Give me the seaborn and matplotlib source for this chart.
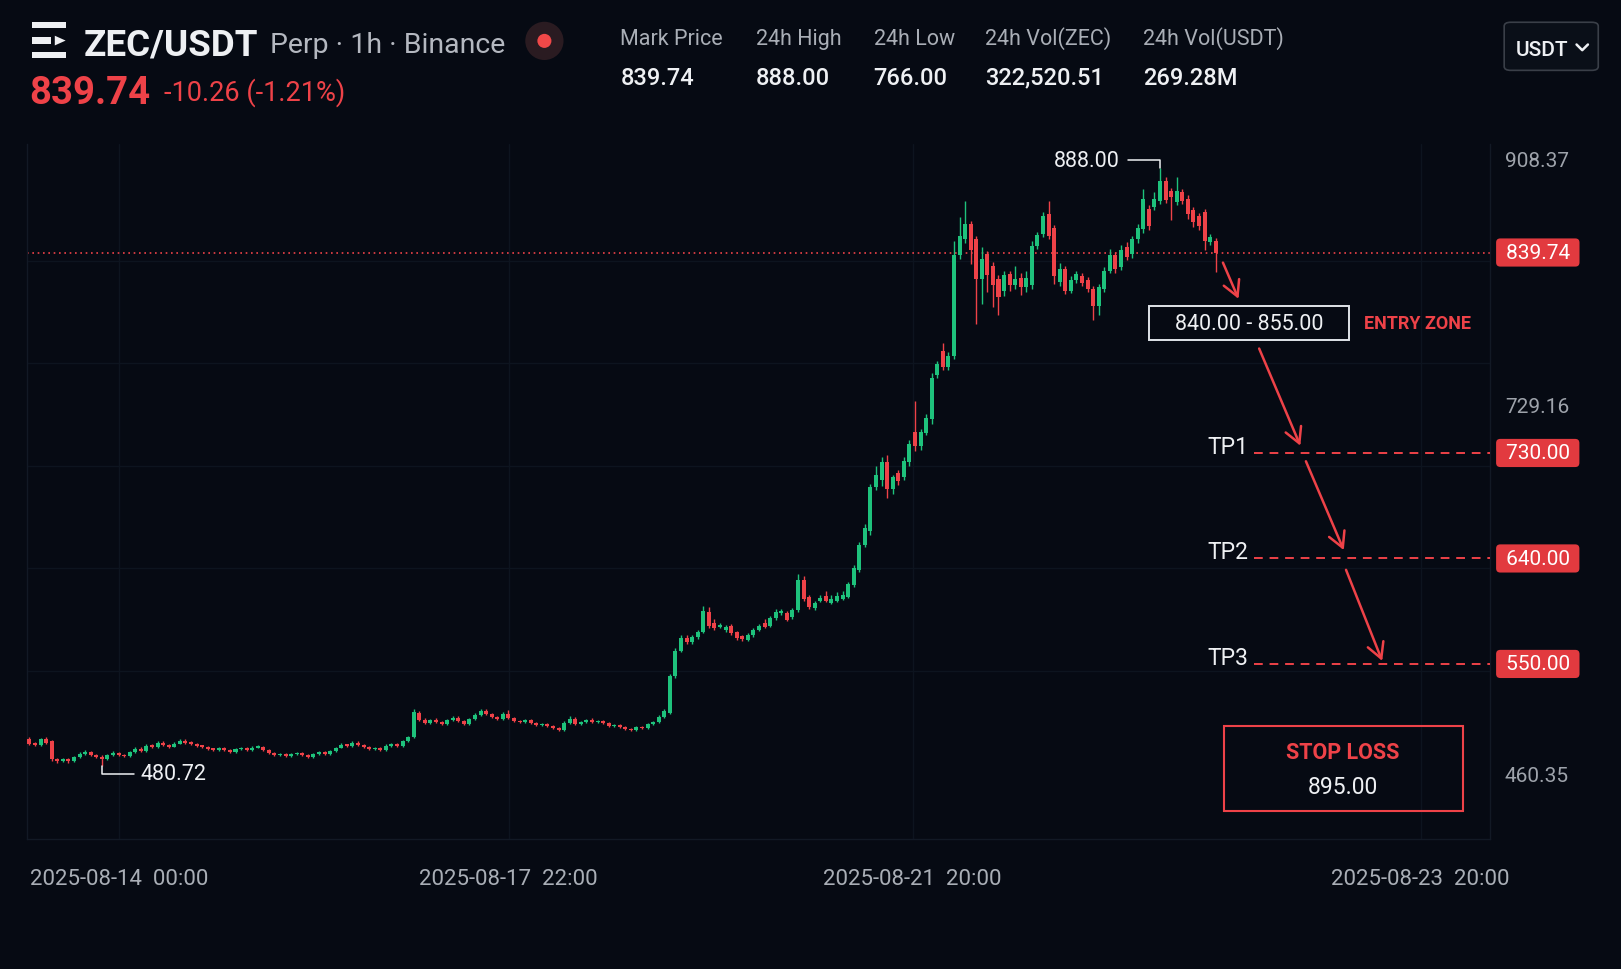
import numpy as np
import pandas as pd
import matplotlib
matplotlib.use("Agg")
import matplotlib.pyplot as plt
import matplotlib.transforms as mtransforms
from matplotlib.patches import Rectangle, Ellipse, FancyBboxPatch, Polygon
from matplotlib.lines import Line2D
from matplotlib.ticker import FixedLocator
import seaborn as sns

# ---- data (1h candles, price in USDT) ----
opens = [
    485.2, 482.2, 481.4, 485.2, 483.7, 470.9, 469.4, 470.9, 469.4, 472.4,
    474.6, 476.2, 473.9, 472.4, 470.9, 473.9, 475.4, 473.9, 473.1, 476.2,
    478.4, 476.9, 480.7, 479.9, 482.9, 481.4, 479.9, 482.2, 484.4, 482.9,
    482.2, 480.7, 479.9, 478.4, 477.7, 479.2, 477.7, 476.2, 478.4, 479.2,
    477.7, 479.2, 479.9, 477.7, 475.4, 473.9, 474.6, 473.1, 474.6, 475.4,
    473.9, 472.4, 474.6, 476.2, 474.6, 476.9, 479.2, 481.4, 480.7,
    482.9, 481.4, 479.9, 478.4, 479.2, 477.7, 480.7, 481.4, 480.7, 483.7,
    486.7, 504.8, 499.5, 497.2, 499.5, 498.0, 496.5, 499.5, 501.0, 498.7,
    496.5, 500.2, 503.2, 506.2, 504.0, 501.8, 500.2, 504.0, 501.0, 498.7,
    498.0, 499.5, 497.2, 495.7, 496.5, 494.9, 493.4, 491.9, 497.2, 500.2,
    496.5, 498.0, 499.5, 498.0, 498.7, 497.2, 494.9, 495.7, 494.2, 492.7,
    491.9, 494.2, 493.4, 496.5, 498.0, 501.8,
    504.8, 531.1, 549.9, 559.0, 556.0, 559.7, 563.5, 577.8, 570.3, 567.3,
    565.0, 568.0, 563.5, 560.5, 557.5, 561.2, 565.0, 570.3, 568.0, 573.3,
    577.0, 577.0, 574.0, 579.3, 601.1, 589.1, 580.8, 586.1, 589.9, 584.6,
    586.1, 587.6, 589.1, 597.4, 608.7, 626.7, 637.3, 668.9, 674.2, 687.0,
    667.4, 679.5, 676.4, 687.0, 708.8, 699.0, 708.0, 718.6,
    750.2, 768.3, 756.3, 764.6, 837.6, 849.6, 860.2, 849.6, 820.3, 838.3,
    830.1, 820.3, 812.0, 824.0, 815.8, 821.0, 814.3, 815.8, 844.4, 853.4,
    867.7, 857.9, 818.0, 827.8, 812.0, 819.5, 822.5, 819.5, 813.5, 800.7,
    813.5, 826.3, 837.6, 829.3, 843.6, 838.3, 849.6, 857.2, 871.5, 873.0,
    877.5, 891.8, 884.3, 876.7, 883.5, 879.0, 870.7, 866.2, 869.2, 847.4,
    848.1,
]
highs = [
    487.0, 483.5, 486.5, 487.0, 484.5, 471.8, 471.5, 471.6, 473.2, 475.8,
    477.4, 477.0, 474.6, 473.5, 474.8, 476.5, 476.0, 474.6, 477.0, 479.5,
    479.4, 481.8, 482.0, 484.0, 483.8, 482.0, 483.0, 485.5, 485.6, 483.8,
    482.9, 481.5, 480.6, 479.1, 480.0, 479.9, 478.4, 479.2, 480.0, 480.0,
    480.2, 480.8, 480.6, 478.4, 476.2, 475.4, 475.4, 475.5, 476.4, 476.2,
    474.6, 475.4, 477.0, 477.0, 477.8, 480.0, 482.4, 482.2, 483.8,
    483.8, 482.2, 480.6, 480.0, 480.0, 481.6, 482.4, 482.9, 484.6, 488.0,
    507.0, 506.0, 500.6, 500.4, 501.0, 498.8, 500.4, 502.0, 502.0, 499.4,
    501.0, 504.2, 507.4, 507.5, 504.8, 502.6, 505.0, 506.3, 501.8, 499.5,
    500.3, 500.2, 498.0, 497.4, 497.2, 495.7, 494.2, 498.5, 502.0, 501.2,
    498.9, 500.4, 500.5, 499.7, 499.6, 498.0, 496.7, 496.5, 494.9, 493.4,
    495.0, 495.0, 497.4, 498.8, 502.8, 507.4,
    533.0, 552.0, 561.0, 561.5, 561.0, 565.0, 582.5, 581.5, 573.0, 570.0,
    568.5, 569.5, 564.5, 561.5, 562.5, 566.5, 569.5, 573.0, 575.0, 580.0,
    580.5, 579.0, 581.0, 606.0, 604.0, 590.5, 586.0, 590.0, 593.0, 590.0,
    592.5, 593.0, 600.0, 612.0, 629.0, 642.0, 671.5, 684.0, 691.0, 692.0,
    678.0, 681.5, 690.5, 703.0, 731.4, 711.0, 722.0, 752.0,
    761.0, 773.5, 767.0, 848.0, 865.5, 877.5, 863.0, 851.5, 843.6, 840.5,
    832.5, 823.0, 826.0, 826.5, 830.0, 824.5, 826.0, 848.0, 855.0, 869.0,
    877.5, 860.0, 832.0, 830.0, 822.5, 826.5, 825.0, 822.0, 815.5, 816.5,
    829.0, 842.0, 840.0, 845.0, 847.5, 852.0, 860.5, 885.8, 874.0, 884.0,
    901.0, 894.5, 887.0, 894.5, 886.0, 881.5, 873.0, 868.5, 871.5, 853.0,
    850.5,
]
lows = [
    481.0, 480.2, 480.5, 482.0, 469.5, 468.3, 468.6, 468.0, 468.8, 471.9,
    474.0, 473.2, 471.5, 465.6, 470.0, 473.2, 473.0, 472.2, 472.5, 475.6,
    476.2, 476.2, 479.0, 479.2, 480.6, 479.2, 479.4, 481.6, 482.2, 481.4,
    480.0, 479.1, 477.8, 476.9, 477.0, 476.9, 475.4, 475.6, 477.7, 477.0,
    477.0, 478.6, 476.9, 474.8, 473.1, 473.2, 472.4, 472.5, 474.0, 473.1,
    471.6, 471.8, 474.0, 473.9, 474.0, 476.2, 478.6, 479.9, 480.0,
    480.6, 479.1, 477.7, 477.6, 476.9, 477.0, 480.0, 479.9, 480.0, 483.0,
    486.0, 498.6, 496.4, 496.5, 497.2, 495.7, 495.9, 498.9, 497.9, 495.8,
    495.9, 499.6, 502.6, 503.2, 501.0, 499.4, 499.6, 500.2, 497.9, 497.2,
    497.4, 496.4, 494.9, 495.0, 494.2, 492.7, 491.0, 491.3, 496.5, 495.7,
    495.8, 497.3, 497.2, 497.4, 496.4, 494.2, 494.2, 493.4, 491.9, 491.1,
    491.3, 492.7, 492.8, 495.8, 497.4, 501.0,
    504.0, 530.0, 548.5, 554.5, 555.0, 558.5, 562.5, 566.5, 565.0, 566.0,
    563.5, 561.5, 557.5, 557.0, 556.5, 560.0, 564.5, 566.0, 567.0, 572.5,
    576.0, 571.5, 573.0, 578.0, 586.0, 580.0, 579.5, 585.0, 585.0, 583.5,
    585.0, 586.5, 588.0, 596.0, 607.0, 625.5, 634.0, 666.5, 670.0, 661.0,
    664.0, 670.5, 674.0, 684.5, 695.0, 696.0, 706.5, 715.0,
    748.5, 754.0, 754.5, 762.0, 835.0, 847.0, 831.6, 787.9, 802.2, 811.2,
    800.0, 794.0, 808.0, 812.0, 813.5, 809.0, 811.0, 813.0, 842.0, 851.0,
    849.5, 816.5, 815.5, 809.7, 810.0, 817.5, 815.0, 811.0, 790.9, 794.5,
    811.0, 824.5, 825.0, 827.0, 834.0, 836.0, 847.0, 854.0, 856.0, 870.5,
    875.0, 876.0, 863.2, 874.5, 875.0, 864.5, 858.5, 856.0, 841.3, 845.0,
    825.5,
]
closes = [
    482.2, 481.4, 485.2, 482.9, 470.9, 469.4, 470.9, 469.4, 472.4, 474.6,
    476.2, 473.9, 472.4, 470.9, 473.9, 475.4, 473.9, 473.1, 476.2, 478.4,
    476.9, 480.7, 479.9, 482.9, 481.4, 479.9, 482.2, 484.4, 482.9, 482.2,
    480.7, 479.9, 478.4, 477.7, 479.2, 477.7, 476.2, 478.4, 479.2, 477.7,
    479.2, 479.9, 477.7, 475.4, 473.9, 474.6, 473.1, 474.6, 475.4, 473.9,
    472.4, 474.6, 476.2, 474.6, 476.9, 479.2, 481.4, 480.7, 482.9,
    481.4, 479.9, 478.4, 479.2, 477.7, 480.7, 481.4, 480.7, 483.7, 486.7,
    505.5, 499.5, 497.2, 499.5, 498.0, 496.5, 499.5, 501.0, 498.7, 496.5,
    500.2, 503.2, 506.2, 504.0, 501.8, 500.2, 504.0, 501.0, 498.7, 498.0,
    499.5, 497.2, 495.7, 496.5, 494.9, 493.4, 491.9, 497.2, 500.2, 496.5,
    498.0, 499.5, 498.0, 498.7, 497.2, 494.9, 495.7, 494.2, 492.7, 491.9,
    494.2, 493.4, 496.5, 498.0, 501.8, 506.2,
    531.1, 549.9, 559.0, 556.0, 559.7, 563.5, 578.5, 568.0, 566.5, 568.0,
    567.3, 562.7, 559.0, 558.2, 561.2, 565.0, 568.0, 567.3, 573.3, 577.8,
    578.5, 572.5, 579.3, 601.1, 587.6, 581.6, 584.6, 588.3, 586.1, 587.6,
    589.9, 590.6, 598.1, 610.2, 626.7, 638.8, 668.9, 677.9, 687.0, 667.4,
    676.4, 673.4, 687.7, 700.5, 699.0, 708.8, 719.4, 748.7,
    758.5, 756.3, 764.6, 837.6, 851.9, 860.2, 841.3, 820.3, 835.3, 823.3,
    815.8, 807.5, 823.3, 815.8, 820.3, 814.3, 821.0, 844.4, 852.6, 866.2,
    851.9, 822.5, 827.8, 812.0, 819.5, 824.0, 817.3, 813.5, 800.7, 814.3,
    826.3, 837.6, 827.8, 841.3, 836.8, 849.6, 857.9, 879.0, 859.4, 879.0,
    891.8, 878.3, 879.8, 884.3, 877.5, 867.7, 861.7, 858.7, 848.1, 851.1,
    839.74,
]

tick_labels = ["2025-08-14  00:00", "2025-08-17  22:00",
               "2025-08-21  20:00", "2025-08-23  20:00"]
price_ticks = [908.37, 729.16, 460.35]

last_price = 839.74
change_abs = -10.26
change_pct = -1.21
high_label = "888.00"
low_label = "480.72"

stat_names = ["Mark Price", "24h High", "24h Low", "24h Vol(ZEC)", "24h Vol(USDT)"]
stat_values = ["839.74", "888.00", "766.00", "322,520.51", "269.28M"]

entry_low, entry_high = 840.00, 855.00
tp_names = ["TP1", "TP2", "TP3"]
tp_levels = [730.00, 640.00, 550.00]
stop_loss = 895.00

# ---- style ----
BG = "#060a13"
GRID = "#0d141f"
EDGE = "#121925"
GREEN = "#1ec27c"
RED = "#ee4248"
BADGE = "#e23a3f"
WHITE = "#eef0f3"
GRAY = "#9ea3ab"
LABEL = "#a9aeb6"

sns.set_theme(style="dark", rc={
    "figure.facecolor": BG, "axes.facecolor": BG, "savefig.facecolor": BG,
    "axes.edgecolor": EDGE, "text.color": WHITE,
})
plt.rcParams["font.family"] = ["Roboto", "DejaVu Sans"]

df = pd.DataFrame({"open": opens, "high": highs, "low": lows, "close": closes})

W, H = 1568, 938


def fx(x):
    return x / W


def fy(y):
    return 1 - y / H


fig = plt.figure(figsize=(16.21, 9.70), dpi=100)
ax = fig.add_axes([fx(26), fy(812), fx(1441) - fx(26), fy(140) - fy(812)])

# candles
bull = df["close"] >= df["open"]
colors = np.where(bull, GREEN, RED)
ax.vlines(df.index, df["low"], df["high"], colors=colors, lw=1.0, zorder=3)
body = (df["close"] - df["open"]).abs().clip(lower=0.9)
ax.bar(df.index, body, bottom=df[["open", "close"]].min(axis=1), width=0.72,
       color=colors, lw=0, zorder=4)

ax.set_xlim(-0.46, 262.2)
ax.set_ylim(412.91, 918.91)

# trade plan gets its own level scale
ax2 = ax.twinx()
ax2.set_ylim(400.9, 993.8)
ax2.set_yticks([])
ax2.grid(False)
for s in ax2.spines.values():
    s.set_visible(False)

# axes, ticks, grid (after twinx, which moves ticks left)
ax.grid(False)
ax.yaxis.tick_right()
ax.set_yticks(price_ticks)
ax.set_yticklabels([f"{v:.2f}" for v in price_ticks])
ax.yaxis.set_minor_locator(FixedLocator(np.linspace(460.35, 908.37, 7)))
ax.tick_params(axis="y", which="both", length=0, pad=11, labelsize=15, labelcolor=GRAY,
               left=False, labelleft=False, right=True, labelright=True)
ax.set_xticks([16.06, 86.05, 158.6, 249.8])
ax.set_xticklabels(tick_labels)
ax.tick_params(axis="x", length=0, pad=21, labelsize=16, labelcolor=LABEL)
ax.grid(True, which="minor", axis="y", color=GRID, lw=1.0, zorder=0)
ax.grid(True, which="major", axis="x", color=GRID, lw=1.0, zorder=0)
for s in ax.spines.values():
    s.set_color(EDGE)
    s.set_linewidth(1.0)
ax.spines["top"].set_visible(False)

# last price line + badge
ax.axhline(last_price, color=RED, lw=1.2, ls=(0, (1, 2.2)), zorder=2)
ytrans = mtransforms.blended_transform_factory(ax.transAxes, ax.transData)
ax.text(1.0075, last_price, f" {last_price:.2f} ", transform=ytrans, ha="left",
        va="center", fontsize=15, color="white", clip_on=False,
        bbox=dict(boxstyle="round,pad=0.22,rounding_size=0.2", fc=BADGE, ec="none"))

# high / low markers
imax = int(df["high"].idxmax())
hmax = df["high"][imax]
ax.plot([imax - 5.75, imax, imax], [hmax + 6, hmax + 6, hmax], color=WHITE, lw=1.1, zorder=5)
ax.text(imax - 7.2, hmax + 6, high_label, ha="right", va="center", fontsize=15.5, color=WHITE)

imin = int(df["low"].idxmin())
lmin = df["low"][imin]
ax.plot([imin, imin, imin + 5.75], [lmin, lmin - 5.3, lmin - 5.3], color=WHITE, lw=1.1, zorder=5)
ax.text(imin + 6.9, lmin - 5.3, low_label, ha="left", va="center", fontsize=15.5, color=WHITE)

xr = ax.get_xlim()[1]
ax2.hlines(tp_levels, 219.9, xr, colors=RED, lw=1.4, ls=(0, (4.5, 3.5)), zorder=3)
ytrans2 = mtransforms.blended_transform_factory(ax2.transAxes, ax2.transData)
for name, lvl in zip(tp_names, tp_levels):
    ax2.annotate(name, xy=(218.8, lvl), xytext=(0, 5), textcoords="offset points",
                 ha="right", va="center", fontsize=16.5, color=WHITE)
    ax2.text(1.0075, lvl, f" {lvl:.2f} ", transform=ytrans2, ha="left", va="center",
             fontsize=15, color="white", clip_on=False,
             bbox=dict(boxstyle="round,pad=0.22,rounding_size=0.2", fc=BADGE, ec="none"))

ax2.add_patch(Rectangle((201.1, 826.2), 35.87, 29.1, fc=BG, ec="#dfe3e8", lw=1.4, zorder=6))
ax2.text(219.05, 840.75, f"{entry_low:.2f} - {entry_high:.2f}", ha="center", va="center",
         fontsize=15.5, color=WHITE, zorder=7)
ax2.text(239.7, 840.75, "ENTRY ZONE", ha="left", va="center", fontsize=13,
         weight="bold", color=RED)

arrows = [((214.3, 892.4), (217.1, 861.5)),
          ((220.8, 819.1), (228.2, 736.2)),
          ((229.2, 722.9), (236.0, 647.1)),
          ((236.4, 630.3), (242.9, 552.6))]
for start, end in arrows:
    ax2.annotate("", xy=end, xytext=start,
                 arrowprops=dict(arrowstyle="->,head_length=0.55,head_width=0.3",
                                 color=RED, lw=1.8, mutation_scale=20,
                                 shrinkA=0, shrinkB=0), zorder=6)

# stop loss box
ax.add_patch(Rectangle((0.8184, 0.0402), 0.1632, 0.1220, transform=ax.transAxes,
                       fill=False, ec=RED, lw=1.5, zorder=6))
ax.text(0.8996, 0.125, "STOP LOSS", transform=ax.transAxes, ha="center", va="center",
        fontsize=15.5, weight="bold", color=RED)
ax.text(0.8996, 0.0744, f"{stop_loss:.2f}", transform=ax.transAxes, ha="center",
        va="center", fontsize=16.5, color=WHITE)

# ---- header ----
for y0, y1, x1 in [(22.6, 28.4, 64.1), (51.6, 57.4, 64.1), (37.2, 43.2, 49.3)]:
    fig.patches.append(Rectangle((fx(30.6), fy(y1)), fx(x1) - fx(30.6), fy(y0) - fy(y1),
                                 transform=fig.transFigure, fc=WHITE, ec="none"))
fig.patches.append(Polygon([(fx(53), fy(35.5)), (fx(63.5), fy(40.2)), (fx(53), fy(44.9))],
                           closed=True, transform=fig.transFigure, fc=WHITE, ec="none"))

fig.text(fx(81), fy(53.2), "ZEC/USDT", fontsize=26.5, weight="bold", color=WHITE, va="baseline")
fig.text(fx(261), fy(51.6), "Perp · 1h · Binance", fontsize=20.5, color="#b4b8c0", va="baseline")
fig.patches.append(Ellipse((fx(526.6), fy(40.5)), 2 * 18.5 / W, 2 * 18.5 / H,
                           transform=fig.transFigure, fc="#2a1b21", ec="none"))
fig.patches.append(Ellipse((fx(526.6), fy(40.5)), 2 * 6.8 / W, 2 * 6.8 / H,
                           transform=fig.transFigure, fc="#f04848", ec="none"))

fig.text(fx(28), fy(101), f"{last_price:.2f}", fontsize=27.5, weight="bold", color=RED,
         va="baseline")
fig.text(fx(159), fy(97.5), f"{change_abs:.2f} ({change_pct:.2f}%)", fontsize=19.5,
         color=RED, va="baseline")

for xs, name, val in zip([600, 731, 845, 953, 1106], stat_names, stat_values):
    fig.text(fx(xs), fy(43.5), name, fontsize=15.5, color=LABEL, va="baseline")
    fig.text(fx(xs), fy(82), val, fontsize=17, weight="medium", color=WHITE, va="baseline")

fig.patches.append(FancyBboxPatch((fx(1455), fy(69)), fx(1546) - fx(1455), fy(22.5) - fy(69),
                                  boxstyle="round,pad=0,rounding_size=0.004",
                                  transform=fig.transFigure, fc="#0a0f18", ec="#3a3f48", lw=1.2))
fig.text(fx(1466), fy(53.8), "USDT", fontsize=15, weight="medium", color=WHITE, va="baseline")
fig.lines.append(Line2D([fx(1525), fx(1530.5), fx(1536)], [fy(44), fy(49.5), fy(44)],
                        transform=fig.transFigure, color=WHITE, lw=1.8,
                        solid_capstyle="round", solid_joinstyle="round"))

fig.savefig("out.png", dpi=100, facecolor=BG)
